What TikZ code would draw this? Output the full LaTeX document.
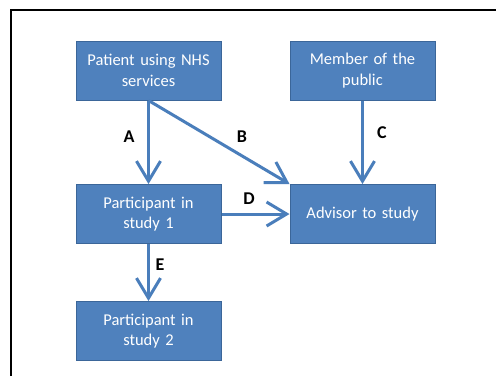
\documentclass[tikz,border=0pt]{standalone}
\usepackage{fontspec}
\setmainfont{Carlito}
\usetikzlibrary{arrows.meta}
\definecolor{boxfill}{HTML}{4F81BD}
\definecolor{boxline}{HTML}{3B6699}
\definecolor{arrowcol}{HTML}{4A7EBB}
\tikzset{
  box/.style={rectangle, fill=boxfill, draw=boxline, line width=1pt,
    minimum width=145pt, minimum height=59pt, text width=140pt, align=center,
    text=white, font=\fontsize{16.5}{20.5}\selectfont, inner sep=0pt},
  flow/.style={draw=arrowcol, line width=3pt,
    -{Straight Barb[length=20pt,width=24pt]}},
  lbl/.style={font=\fontsize{18}{20}\selectfont\bfseries, text=black, inner sep=0pt}
}
\begin{document}
\begin{tikzpicture}[x=1pt,y=-1pt]
\useasboundingbox (0,0) rectangle (496,376);
\fill[white] (0,0) rectangle (496,376);
\coordinate (fb) at (11,376);
\coordinate (fc) at (11,10);
\coordinate (fr) at (496,10);
\draw[line width=1.7pt] (fb) -- (fc) -- (fr);
\node[box] (pat) at (148.5,70.5) {Patient using NHS\\services};
\node[box] (mem) at (362.5,70.5) {Member of the\\public};
\node[box] (p1) at (148.5,214) {Participant in\\study 1};
\node[box] (adv) at (362.5,214) {Advisor to study};
\node[box] (p2) at (148.5,331) {Participant in\\study 2};
\draw[flow] (pat.south) -- (p1.north);
\draw[flow] (pat.south) -- (adv.north west);
\draw[flow] (mem.south) -- (adv.north);
\draw[flow] (p1.east) -- (adv.west);
\draw[flow] (p1.south) -- (p2.north);
\node[lbl] (la) at (129,137) {A};
\node[lbl] (lb) at (242,137) {B};
\node[lbl] (lc) at (382,133) {C};
\node[lbl] (ld) at (249,199) {D};
\node[lbl] (le) at (160,265) {E};
\end{tikzpicture}
\end{document}
